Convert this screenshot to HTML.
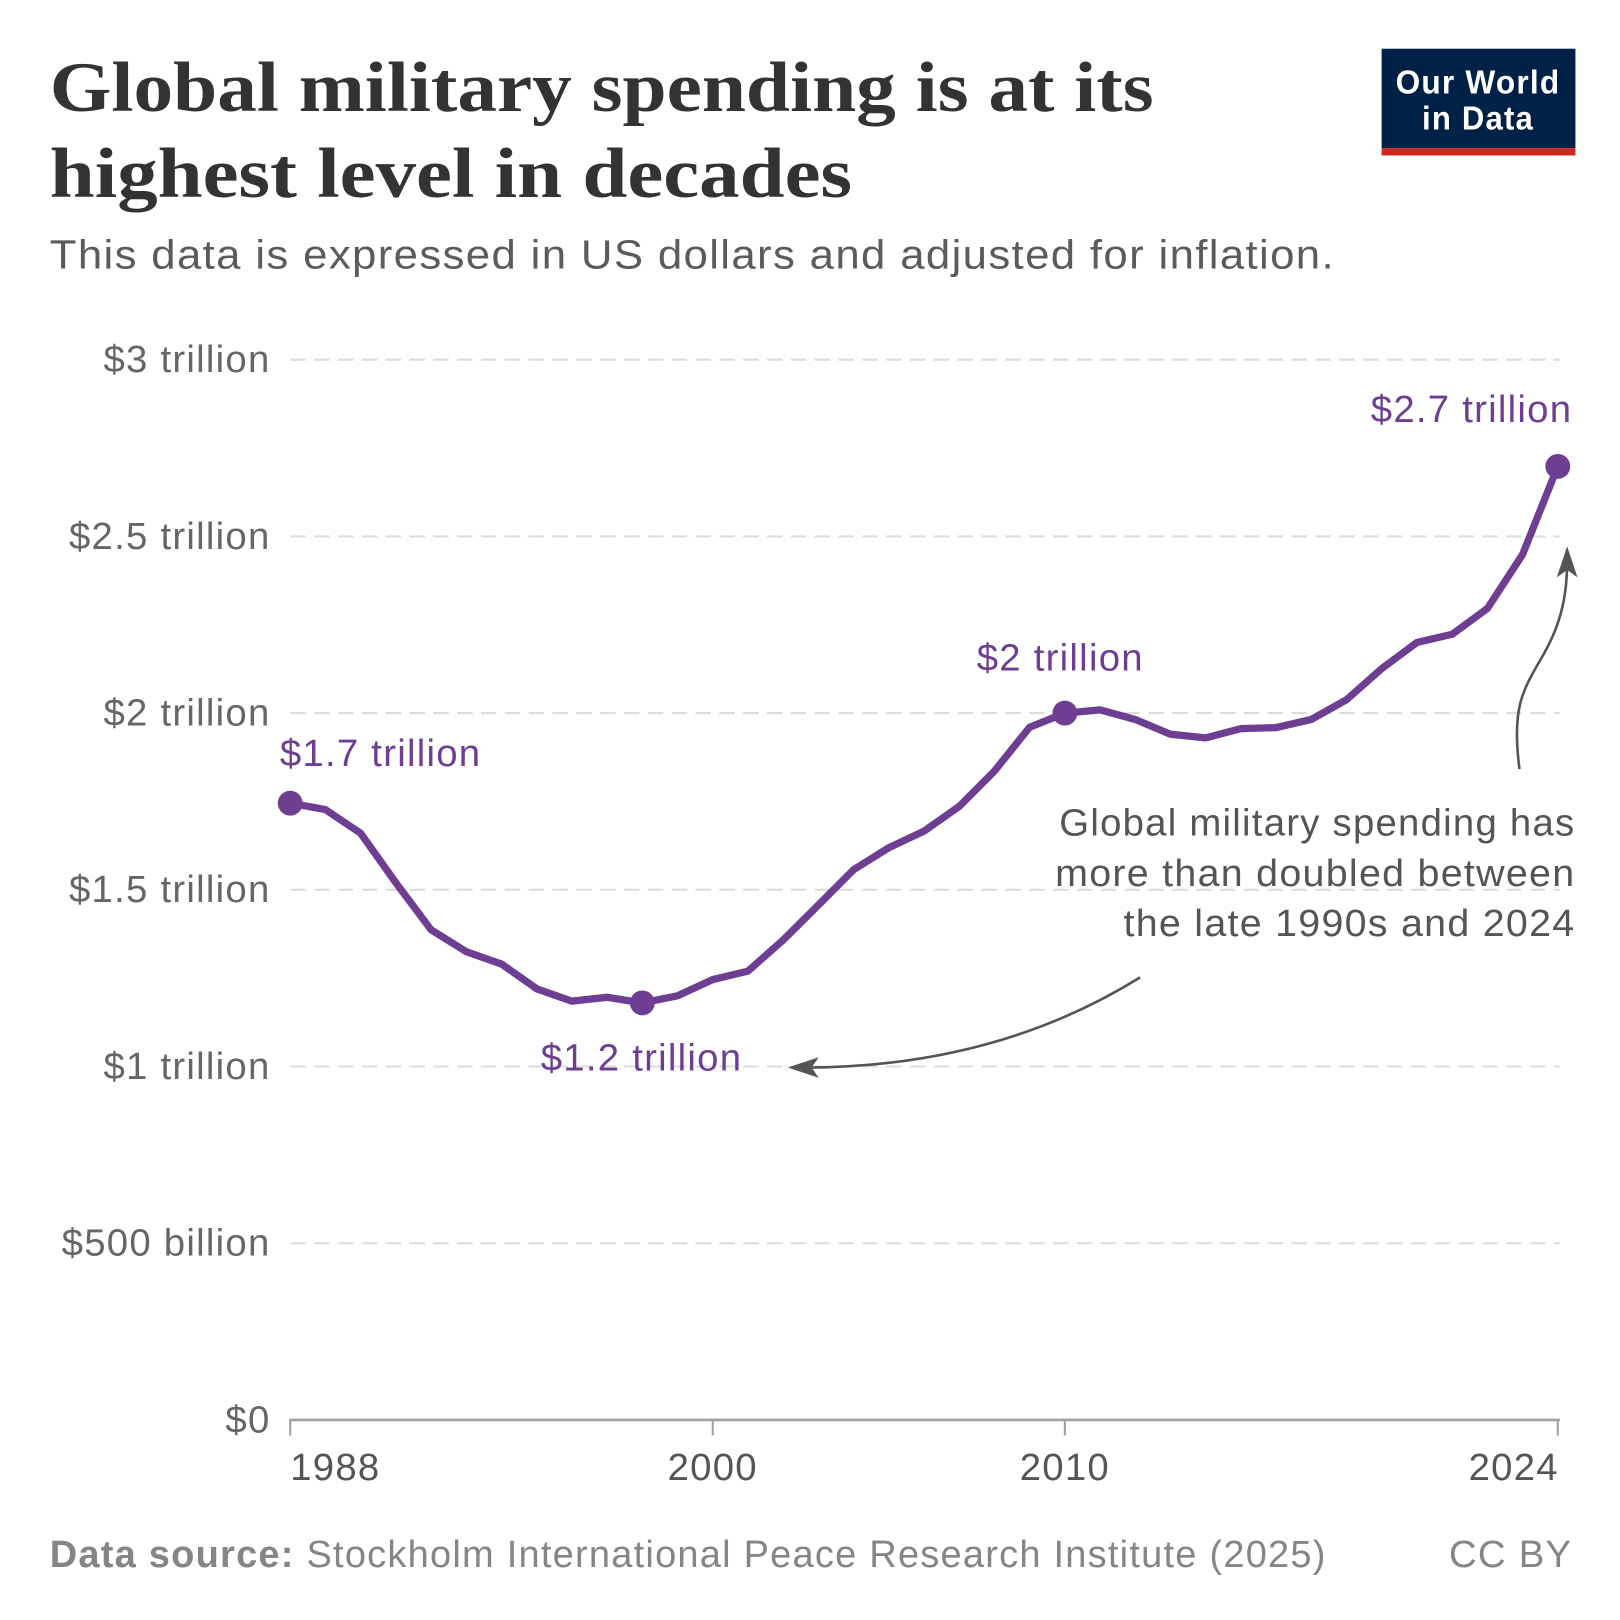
<!DOCTYPE html>
<html><head><meta charset="utf-8"><style>
html,body{margin:0;padding:0;background:#fff;}
svg{display:block;}
.s{font-family:"Liberation Sans",sans-serif;letter-spacing:1.2px;}
.serif{font-family:"Liberation Serif",serif;font-weight:bold;}
</style></head><body>
<svg id="chart" width="1620" height="1620" viewBox="0 0 1563 1563">
<text class="serif" x="48" y="107" font-size="68" fill="#333" textLength="1065" lengthAdjust="spacingAndGlyphs">Global military spending is at its</text>
<text class="serif" x="48" y="190" font-size="68" fill="#333" textLength="774" lengthAdjust="spacingAndGlyphs">highest level in decades</text>
<text class="s" x="48" y="259" font-size="39" fill="#5b5b5b" textLength="1240" lengthAdjust="spacingAndGlyphs">This data is expressed in US dollars and adjusted for inflation.</text>
<g>
<rect x="1333" y="47" width="187" height="96" fill="#002147"/>
<rect x="1333" y="143" width="187" height="7" fill="#ce261e"/>
<text class="s" x="1426" y="90" text-anchor="middle" font-size="32" fill="#fff" font-weight="bold" textLength="159" lengthAdjust="spacingAndGlyphs">Our World</text>
<text class="s" x="1426" y="125" text-anchor="middle" font-size="32" fill="#fff" font-weight="bold" textLength="108" lengthAdjust="spacingAndGlyphs">in Data</text>
</g>
<g id="grid"></g>
<g id="yticks"></g>
<g id="xaxis"></g>
<g id="series"></g>
<g class="s" fill="#555" font-size="37" text-anchor="end">
<text x="1520" y="806" textLength="498" lengthAdjust="spacingAndGlyphs">Global military spending has</text>
<text x="1520" y="855" textLength="502" lengthAdjust="spacingAndGlyphs">more than doubled between</text>
<text x="1520" y="903" textLength="436" lengthAdjust="spacingAndGlyphs">the late 1990s and 2024</text>
</g>
<g stroke="#555" stroke-width="2.5" fill="none">
<path d="M1100,943 Q960,1030 775,1030"/>
<path d="M1466,742 C1458,680 1470,665 1490,630 C1508,598 1512,570 1512,540"/>
</g>
<g fill="#555">
<path d="M760,1030 L790,1020 L783,1030 L790,1040 Z"/>
<path d="M1512,527 L1522,557 L1512,550 L1502,557 Z"/>
</g>
<text class="s" x="48" y="1512" font-size="37" fill="#858585" textLength="1232" lengthAdjust="spacingAndGlyphs"><tspan font-weight="bold">Data source:</tspan> Stockholm International Peace Research Institute (2025)</text>
<text class="s" x="1517" y="1512" text-anchor="end" font-size="37" fill="#858585">CC BY</text>
</svg>
<script>
const years=[1988,1989,1990,1991,1992,1993,1994,1995,1996,1997,1998,1999,2000,2001,2002,2003,2004,2005,2006,2007,2008,2009,2010,2011,2012,2013,2014,2015,2016,2017,2018,2019,2020,2021,2022,2023,2024];
const spending=[1.745,1.727,1.66,1.52,1.387,1.325,1.29,1.22,1.185,1.196,1.18,1.2,1.246,1.27,1.358,1.457,1.557,1.619,1.666,1.736,1.836,1.96,2.0,2.009,1.982,1.94,1.93,1.956,1.959,1.982,2.038,2.126,2.2,2.223,2.296,2.449,2.698];
const yTickValues=[0,0.5,1,1.5,2,2.5,3];
const yTickLabels=["$0","$500 billion","$1 trillion","$1.5 trillion","$2 trillion","$2.5 trillion","$3 trillion"];
const xTickYears=[1988,2000,2010,2024];
const highlightYears=[1988,1998,2010,2024];
const highlightLabels=["$1.7 trillion","$1.2 trillion","$2 trillion","$2.7 trillion"];
const NS="http://www.w3.org/2000/svg";
const X=y=>280+(y-1988)*(1223/36);
const Y=v=>1370-v*341;
function mk(tag,attrs,parent){const e=document.createElementNS(NS,tag);for(const k in attrs)e.setAttribute(k,attrs[k]);parent.appendChild(e);return e;}
const grid=document.getElementById('grid'),yt=document.getElementById('yticks'),xa=document.getElementById('xaxis'),se=document.getElementById('series');
yTickValues.forEach((v,i)=>{
 if(v>0){const l=mk('line',{x1:280,x2:1505,y1:Y(v),y2:Y(v),stroke:'#dcdcdc','stroke-width':2,'stroke-dasharray':'15 8'},grid);
 
 }
 const t=mk('text',{class:'s',x:261,y:Y(v)+12,'text-anchor':'end','font-size':37,fill:'#666'},yt);t.textContent=yTickLabels[i];
 
 
});
mk('line',{x1:279,x2:1505,y1:1370,y2:1370,stroke:'#a0a0a0','stroke-width':2.5},xa);
xTickYears.forEach((yr,i)=>{
 mk('line',{x1:X(yr),x2:X(yr),y1:1370,y2:1385,stroke:'#a0a0a0','stroke-width':2},xa);
 const anchor=i==0?'start':(i==xTickYears.length-1?'end':'middle');
 const t=mk('text',{class:'s',x:X(yr)+(anchor=='end'?1:0),y:1428,'text-anchor':anchor,'font-size':37,fill:'#555'},xa);t.textContent=yr;
 
 
});
const p=mk('polyline',{points:years.map((y,i)=>X(y)+','+Y(spending[i])).join(' '),fill:'none',stroke:'#6d3e91','stroke-width':7,'stroke-linejoin':'round','stroke-linecap':'round'},se);


const lblPos=[[-10,-36,'start'],[-98,65,'start'],[-85,-41,'start'],[14,-43,'end']];
highlightYears.forEach((yr,i)=>{
 const v=spending[years.indexOf(yr)];
 const c=mk('circle',{cx:X(yr),cy:Y(v),r:12,fill:'#6d3e91'},se);
 
 
 const o=lblPos[i];
 const t=mk('text',{class:'s',x:X(yr)+o[0],y:Y(v)+o[1],'text-anchor':o[2],'font-size':37,fill:'#6d3e91'},se);t.textContent=highlightLabels[i];
 
 
});
</script>
</body></html>
